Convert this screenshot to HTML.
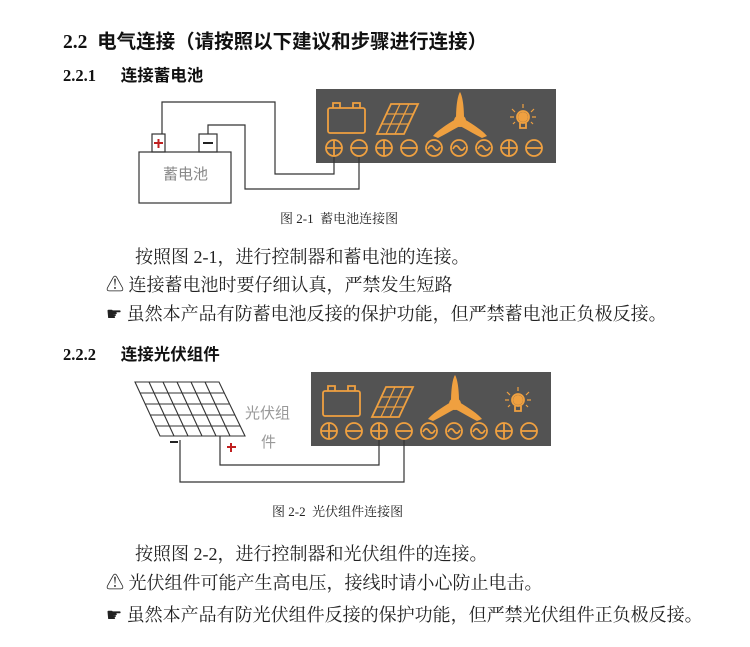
<!DOCTYPE html>
<html><head><meta charset="utf-8"><style>
body{margin:0;width:750px;height:647px;background:#fff;position:relative;overflow:hidden}
.t{position:absolute;white-space:nowrap;font-family:"Liberation Serif","Noto Serif CJK SC",serif;color:#222}
.h{font-family:"Liberation Serif","Noto Sans CJK SC",sans-serif;font-weight:bold;color:#111}
svg{position:absolute;left:0;top:0}
</style></head><body>
<svg width="750" height="647" viewBox="0 0 750 647">
<defs>
<g id="panel">
<rect x="0" y="0" width="240" height="74" fill="#535353"/>
<g fill="none" stroke="#efa040" stroke-width="1.8">
<rect x="12" y="19" width="37" height="25" rx="2"/>
<path d="M17 19v-5h7v5M37 19v-5h7v5"/>
<path d="M75 15h27l-14 30h-27z"/>
<path d="M70 25h28 M66 35h27 M84 15l-14 30 M93 15l-14 30" stroke-width="1.3"/>
<circle cx="207" cy="28" r="6"/><path d="M204 34v5h6v-5"/>
<path d="M207 15v4M196 20l3 3M218 20l-3 3M194 28h4M220 28h-4M197 35l2-2M217 35l-2-2" stroke-width="1.2"/>
<g id="tp"><circle cx="18" cy="59" r="8"/><path d="M10 59h16M18 51v16"/></g>
<use href="#tp" x="50"/><use href="#tp" x="175"/>
<g id="tm"><circle cx="43" cy="59" r="8"/><path d="M35 59h16"/></g>
<use href="#tm" x="50"/><use href="#tm" x="175"/>
<g id="ta"><circle cx="118" cy="59" r="8"/><path d="M112 60c2-4 4-4 6-1s4 3 6-1"/></g>
<use href="#ta" x="25"/><use href="#ta" x="50"/>
</g>
<g fill="#efa040">
<circle cx="207" cy="28" r="5"/>
<circle cx="144" cy="32" r="6"/>
<path d="M140 30 C140 15 142 6 144 3 C146 6 148 15 148 30z"/>
<path d="M140 30 C130 36 121 42 117 47 L122 49 C130 45 138 40 146 36z"/>
<path d="M148 30 C158 36 167 42 171 47 L166 49 C158 45 150 40 142 36z"/>
</g>
</g>
</defs>
<use href="#panel" x="316" y="89"/>
<use href="#panel" x="311" y="372"/>
<g fill="none" stroke="#333" stroke-width="1.2">
<rect x="139" y="152" width="92" height="51"/>
<rect x="152" y="134" width="13" height="18"/>
<rect x="199" y="134" width="18" height="18"/>
<path d="M162 134V102H275V174H334V157"/>
<path d="M208 134V125H245V189H359V157"/>
<path d="M220 436V465H379V440"/>
<path d="M180 440V482H404V440"/>
</g>
<path d="M154 143h9M158.5 139v9" stroke="#c02020" stroke-width="2"/>
<path d="M203 143h10" stroke="#222" stroke-width="2"/>
<g fill="none" stroke="#333" stroke-width="1.1">
<path d="M135 382H219L245 436H160Z"/>
<path d="M140 393H224M145 404H230M150 415H235M155 426H240"/>
<path d="M149 382L174 436M163 382L188 436M177 382L202 436M191 382L216 436M205 382L230 436"/>
</g>
<path d="M170 442h8" stroke="#222" stroke-width="2"/>
<path d="M227 447h9M231 443v9" stroke="#c02020" stroke-width="2"/>
</svg>
<div class="t h" style="left:63px;top:25px;font-size:19.5px">2.2&nbsp;&nbsp;电气连接（请按照以下建议和步骤进行连接）</div>
<div class="t h" style="left:63px;top:62px;font-size:16.5px">2.2.1&nbsp;&nbsp;&nbsp;&nbsp;&nbsp;&nbsp;连接蓄电池</div>
<div class="t" style="left:163px;top:163px;font-size:15px;color:#888;font-family:'Liberation Sans','Noto Sans CJK SC',sans-serif">蓄电池</div>
<div class="t" style="left:280px;top:208px;font-size:13px">图 2-1&nbsp;&nbsp;蓄电池连接图</div>
<div class="t" style="left:135px;top:243px;font-size:18px">按照图 2-1，进行控制器和蓄电池的连接。</div>
<div class="t" style="left:106px;top:271px;font-size:18px">⚠ 连接蓄电池时要仔细认真，严禁发生短路</div>
<div class="t" style="left:106px;top:300px;font-size:18px">☛ 虽然本产品有防蓄电池反接的保护功能，但严禁蓄电池正负极反接。</div>
<div class="t h" style="left:63px;top:341px;font-size:16.5px">2.2.2&nbsp;&nbsp;&nbsp;&nbsp;&nbsp;&nbsp;连接光伏组件</div>
<div class="t" style="left:245px;top:402px;font-size:15px;color:#999;font-family:'Liberation Sans','Noto Sans CJK SC',sans-serif">光伏组</div>
<div class="t" style="left:261px;top:431px;font-size:15px;color:#999;font-family:'Liberation Sans','Noto Sans CJK SC',sans-serif">件</div>
<div class="t" style="left:272px;top:501px;font-size:13px">图 2-2&nbsp;&nbsp;光伏组件连接图</div>
<div class="t" style="left:135px;top:540px;font-size:18px">按照图 2-2，进行控制器和光伏组件的连接。</div>
<div class="t" style="left:106px;top:569px;font-size:18px">⚠ 光伏组件可能产生高电压，接线时请小心防止电击。</div>
<div class="t" style="left:106px;top:601px;font-size:18px">☛ 虽然本产品有防光伏组件反接的保护功能，但严禁光伏组件正负极反接。</div>
</body></html>
